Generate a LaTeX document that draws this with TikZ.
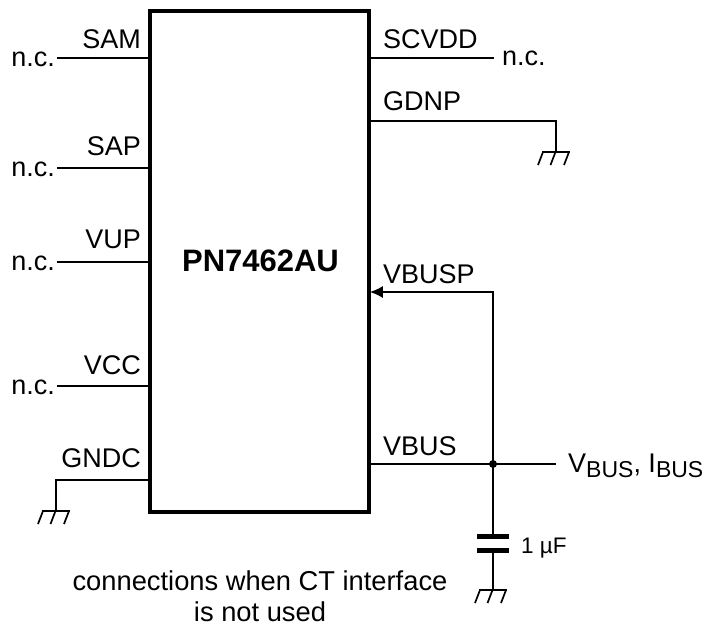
\documentclass[tikz,border=0pt]{standalone}
\usepackage{fontspec}
\setmainfont{Liberation Sans}
\usetikzlibrary{calc, positioning, arrows.meta}
\newcommand{\subtxt}[1]{\raisebox{-5pt}{\fontsize{23}{23}\selectfont #1}}
\tikzset{
    chip/.style = {rectangle, draw, line width=3.6pt, minimum width=219pt, minimum height=501pt, inner sep=0pt},
    wire/.style = {draw, line width=1.7pt},
    plate/.style = {draw, line width=5pt},
    pinname/.style = {inner sep=0pt, font=\fontsize{27}{28}\selectfont},
    nc/.style = {inner sep=0pt, anchor=west, font=\fontsize{27}{28}\selectfont},
    dot/.style = {circle, fill, inner sep=0pt, minimum size=8pt},
    gnd/.pic = {
        \draw[line width=1.7pt] (-14,0) -- (14,0);
        \foreach \tick in {-13,-0.5,13}
            \draw[line width=1.7pt] (\tick,0) -- ++(-5,13);
    }
}
\begin{document}
\begin{tikzpicture}[x=1pt, y=-1pt]
    \useasboundingbox (0,0) rectangle (706,627);
    \node [chip] (chip) at (259.5,261.5) {};
    \node [font=\fontsize{31}{34}\selectfont\bfseries, inner sep=0pt] (part) at (260.5,261) {PN7462AU};

    % left pins without connection
    \foreach \pin/\ypos/\ylbl in {SAM/58/48, SAP/168/155, VUP/262/248, VCC/386/374} {
        \coordinate (end\pin) at (57,\ypos);
        \draw [wire] (end\pin) -- (end\pin -| chip.west);
        \node [pinname, anchor=base east] (lbl\pin) at (141,\ylbl) {\pin};
        \node [nc, anchor=east] (nc\pin) at (55,\ypos+1) {n.c.};
    }

    % GNDC
    \coordinate (gndc) at (56,480);
    \coordinate (gndcbot) at (56,511);
    \node [pinname, anchor=base east] (lblGNDC) at (141,467) {GNDC};
    \draw [wire] (gndcbot) -- (gndc) -- (gndc -| chip.west);
    \pic at (gndcbot) {gnd};

    % right side
    \coordinate (scvdd) at (494,58);
    \draw [wire] (scvdd -| chip.east) -- (scvdd);
    \node [pinname, anchor=base west] (lblSCVDD) at (383,48) {SCVDD};
    \node [nc] (ncSCVDD) at (502,58) {n.c.};

    \coordinate (gdnp) at (556,121);
    \coordinate (gdnpbot) at (556,152);
    \node [pinname, anchor=base west] (lblGDNP) at (383,110) {GDNP};
    \draw [wire] (gdnp -| chip.east) -- (gdnp) -- (gdnpbot);
    \pic at (gdnpbot) {gnd};

    \node [dot] (junc) at (493,464) {};
    \coordinate (vbusp) at (493,292);
    \coordinate (vbusend) at (556,464);
    \node [pinname, anchor=base west] (lblVBUSP) at (383,283) {VBUSP};
    \node [pinname, anchor=base west] (lblVBUS) at (383,455) {VBUS};
    \draw [wire, -{Latex[length=13pt,width=12pt]}] (junc.center) -- (vbusp) -- ($(vbusp -| chip.east)+(-1,0)$);
    \draw [wire] (chip.east |- junc) -- (vbusend);
    \node [nc, anchor=base west] (supply) at (568,472) {V\subtxt{BUS}, I\subtxt{BUS}};

    % capacitor
    \coordinate (captop) at (493,536);
    \coordinate (capbot) at (493,550);
    \coordinate (capgnd) at (493,590);
    \draw [wire] (junc.center) -- (captop);
    \draw [wire] (capbot) -- (capgnd);
    \draw [plate] ($(captop)+(-16,0)$) -- ($(captop)+(16,0)$);
    \draw [plate] ($(capbot)+(-16,0)$) -- ($(capbot)+(16,0)$);
    \pic at (capgnd) {gnd};
    \node [inner sep=0pt, anchor=base west, font=\fontsize{22.5}{25}\selectfont] (capval) at (521,553) {1 µF};

    \node [pinname, align=center, font=\fontsize{27.3}{31}\selectfont] (note) at (260,596) {connections when CT interface\\is not used};
\end{tikzpicture}
\end{document}
